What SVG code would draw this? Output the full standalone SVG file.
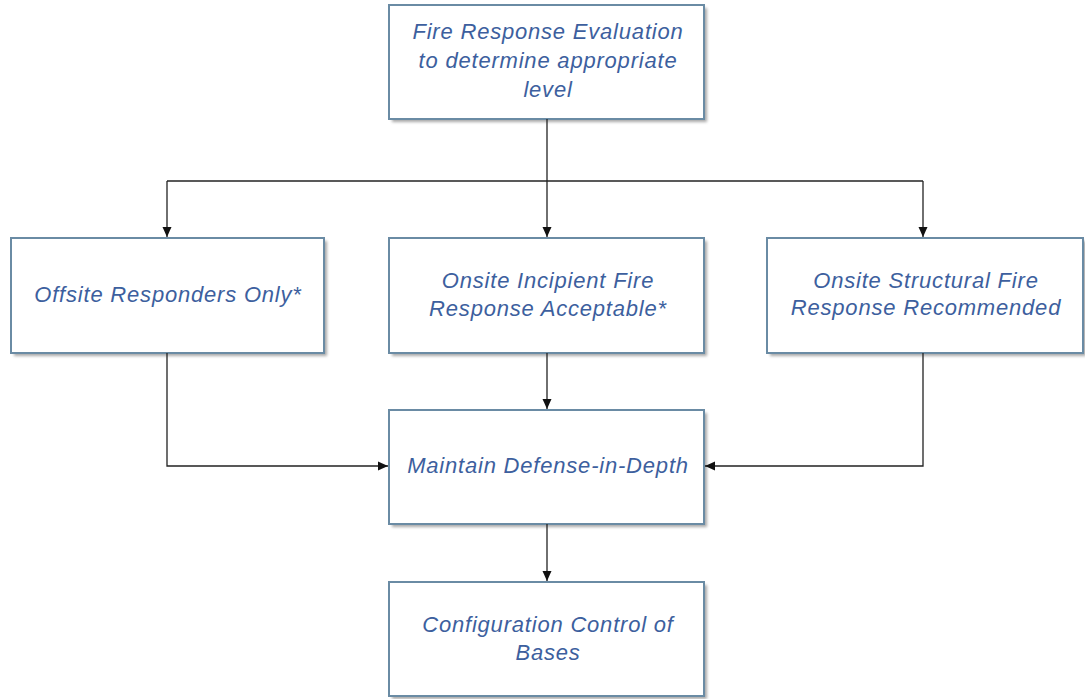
<svg xmlns="http://www.w3.org/2000/svg" width="1085" height="699" viewBox="0 0 1085 699">
<style>
.box{fill:#ffffff;stroke:#6a8ba4;stroke-width:2}
.sh{fill:#a8a8a8}
.t{font-family:"Liberation Sans",Arial,sans-serif;font-style:italic;font-size:22px;letter-spacing:0.8px;fill:#3d5f9e;text-anchor:middle}
.c{fill:none;stroke:#222;stroke-width:1.3}
</style>
<defs>
<filter id="blur" x="-5%" y="-5%" width="110%" height="110%"><feGaussianBlur stdDeviation="1.5"/></filter>
<marker id="arr" markerWidth="11" markerHeight="11" refX="10" refY="5.5" orient="auto" markerUnits="userSpaceOnUse"><path d="M0,1 L10,5.5 L0,10 Z" fill="#111"/></marker>
</defs>
<g id="n1"><rect class="sh" x="392" y="8" width="315" height="114" filter="url(#blur)"/><rect class="box" x="389" y="5" width="315" height="114"/>
<text class="t" x="548" y="39">Fire Response Evaluation</text><text class="t" x="548" y="68">to determine appropriate</text><text class="t" x="548" y="97">level</text></g>
<g id="n2"><rect class="sh" x="14" y="241" width="313" height="115" filter="url(#blur)"/><rect class="box" x="11" y="238" width="313" height="115"/>
<text class="t" x="168" y="302">Offsite Responders Only*</text></g>
<g id="n3"><rect class="sh" x="392" y="241" width="315" height="115" filter="url(#blur)"/><rect class="box" x="389" y="238" width="315" height="115"/>
<text class="t" x="548" y="288">Onsite Incipient Fire</text><text class="t" x="548" y="316">Response Acceptable*</text></g>
<g id="n4"><rect class="sh" x="770" y="241" width="316" height="115" filter="url(#blur)"/><rect class="box" x="767" y="238" width="316" height="115"/>
<text class="t" x="926" y="288">Onsite Structural Fire</text><text class="t" x="926" y="315">Response Recommended</text></g>
<g id="n5"><rect class="sh" x="392" y="413" width="315" height="114" filter="url(#blur)"/><rect class="box" x="389" y="410" width="315" height="114"/>
<text class="t" x="548" y="473">Maintain Defense-in-Depth</text></g>
<g id="n6"><rect class="sh" x="392" y="585" width="315" height="114" filter="url(#blur)"/><rect class="box" x="389" y="582" width="315" height="114"/>
<text class="t" x="548" y="632">Configuration Control of</text><text class="t" x="548" y="660">Bases</text></g>
<g id="connectors">
<path class="c" d="M547,119 V181"/>
<path class="c" d="M167,181 H923"/>
<path class="c" d="M167,181 V237" marker-end="url(#arr)"/>
<path class="c" d="M547,181 V237" marker-end="url(#arr)"/>
<path class="c" d="M923,181 V237" marker-end="url(#arr)"/>
<path class="c" d="M167,353 V466 H388" marker-end="url(#arr)"/>
<path class="c" d="M923,353 V466 H705" marker-end="url(#arr)"/>
<path class="c" d="M547,353 V409" marker-end="url(#arr)"/>
<path class="c" d="M547,524 V581" marker-end="url(#arr)"/>
</g>
</svg>
